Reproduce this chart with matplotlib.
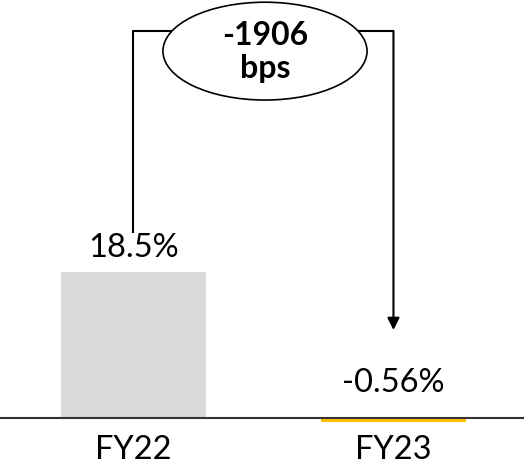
import matplotlib.pyplot as plt
from matplotlib.patches import Ellipse

categories = ["FY22", "FY23"]
values = [18.5, -0.56]
labels = ["18.5%", "-0.56%"]
bar_colors = ["#d9d9d9", "#ffc000"]
change_text = "-1906\nbps"

plt.rcParams['font.family'] = ['Lato', 'DejaVu Sans']

fig = plt.figure(figsize=(5.24, 4.67), dpi=100)
ax = fig.add_axes([0, 0, 1, 1])
ax.set_xlim(-0.513, 1.502)
ax.set_ylim(-6.21, 52.98)
ax.axis('off')

x = list(range(len(categories)))
ax.bar(x, values, width=0.56, color=bar_colors, zorder=2)
ax.axhline(0, color='#333333', lw=1.5, zorder=3)

# value labels and category labels
ax.text(x[0], values[0] + 3.0, labels[0], ha='center', va='center', fontsize=23.5)
ax.text(x[1], 4.4, labels[1], ha='center', va='center', fontsize=23.5)
for xi, c in zip(x, categories):
    ax.text(xi, -4.1, c, ha='center', va='center', fontsize=23.5)

# connector: up from FY22 label, across, down to FY23 with arrow
top = 49.05
ax.plot([x[0], x[0], 0.15], [values[0] + 5.1, top, top], color='black', lw=1.5, zorder=4)
ax.annotate('', xy=(x[1], 11.15), xytext=(x[1], top),
            arrowprops=dict(arrowstyle='-|>', color='black', lw=1.5,
                            mutation_scale=18, shrinkA=0, shrinkB=0), zorder=4)
ax.plot([0.85, x[1]], [top, top], color='black', lw=1.5, zorder=4)

ell = Ellipse((0.506, 46.5), 0.785, 12.4, facecolor='white', edgecolor='black',
              lw=1.2, zorder=5)
ax.add_patch(ell)
ax.text(0.506, 46.4, change_text, ha='center', va='center', fontsize=23,
        fontweight='bold', linespacing=1.2, zorder=6)

fig.savefig('out.png', dpi=100)
